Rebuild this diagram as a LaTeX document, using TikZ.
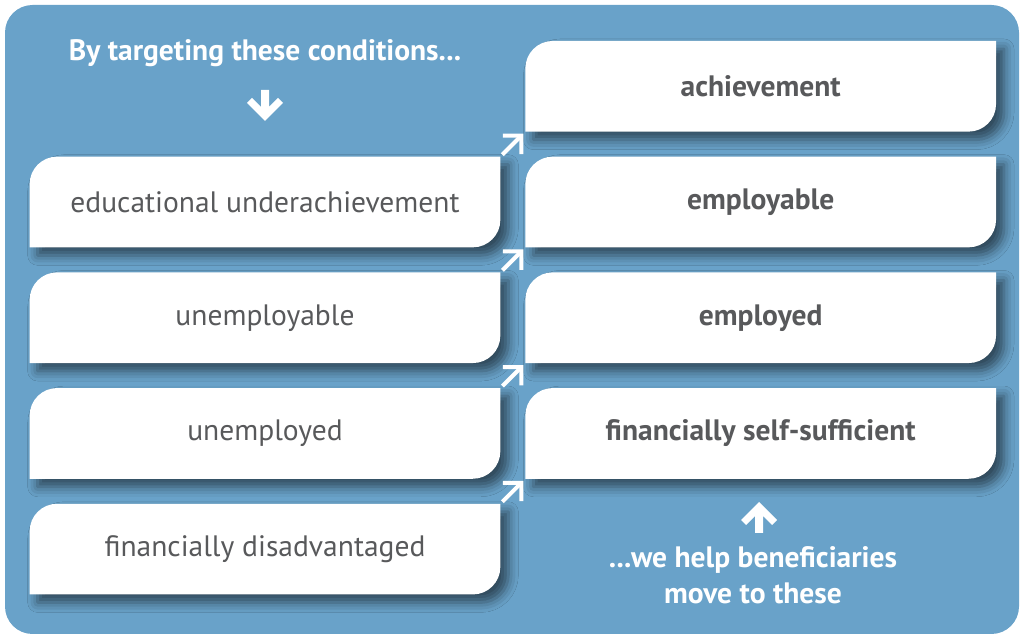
\documentclass[tikz,border=0pt]{standalone}
\usepackage{fontspec}
\setmainfont{PT Sans}
\usetikzlibrary{arrows.meta,positioning,backgrounds,shadows.blur}

\definecolor{panel}{HTML}{69A2C9}
\definecolor{textgrey}{HTML}{58595B}

\begin{document}
\begin{tikzpicture}[
	leaf/.style = {minimum width=9.4cm, minimum height=1.8cm, inner sep=0pt,
		text=textgrey, font=\fontsize{16.8}{20}\selectfont},
	goal/.style = {leaf, font=\fontsize{16.8}{20}\selectfont\bfseries},
	note/.style = {text=white, align=center, font=\fontsize{16.8}{20.4}\selectfont\bfseries},
	step arrow/.style = {white, line width=2.3pt,
		-{Straight Barb[length=0.26cm, width=0.52cm, line join=miter, line cap=butt]}},
	bigarrow/.style = {fill=white}
]
\useasboundingbox (0,0) rectangle (20.48,12.78);

% conditions
\node [leaf] (lb1) at (5.3,8.74) {educational underachievement};
\node [leaf, below=0.5cm of lb1] (lb2) {unemployable};
\node [leaf, below=0.5cm of lb2] (lb3) {unemployed};
\node [leaf, below=0.5cm of lb3] (lb4) {financially disadvantaged};

% outcomes
\node [goal, right=0.5cm of lb1] (rb2) {employable};
\node [goal, above=0.5cm of rb2] (rb1) {achievement};
\node [goal, below=0.5cm of rb2] (rb3) {employed};
\node [goal, below=0.5cm of rb3] (rb4) {financially self-sufficient};

\node [note] (head) at (5.3,11.72) {By targeting these conditions...};
\node [note] (foot) at (15.06,1.27) {...we help beneficiaries\\move to these};

% big arrows
\coordinate (dn) at (5.3,10.36);
\coordinate (up) at (15.18,2.74);
\fill [bigarrow] (dn) -- ++(0.36,0.36) -- ++(-0.1,0.1) -- ++(-0.18,-0.18) -- ++(0,0.34)
	-- ++(-0.16,0) -- ++(0,-0.34) -- ++(-0.18,0.18) -- ++(-0.1,-0.1) -- cycle;
\fill [bigarrow] (up) -- ++(0.36,-0.36) -- ++(-0.1,-0.1) -- ++(-0.18,0.18) -- ++(0,-0.34)
	-- ++(-0.16,0) -- ++(0,0.34) -- ++(-0.18,-0.18) -- ++(-0.1,0.1) -- cycle;

% small arrows
\foreach \i in {1,2,3,4}
	\draw [step arrow] ([shift={(0.04,0.04)}]lb\i.north east) -- ([shift={(-0.04,-0.04)}]rb\i.south west);

\begin{scope}[on background layer]
	\fill [panel, rounded corners=0.55cm] (0.1,0.1) rectangle (20.38,12.68);
	\foreach \n in {lb1,lb2,lb3,lb4,rb1,rb2,rb3,rb4}
		\fill [white, blur shadow={shadow xshift=0.16cm, shadow yshift=-0.16cm,
			shadow blur radius=0.2cm, shadow opacity=55}]
			(\n.south west) -- ([yshift=-0.55cm]\n.north west)
			arc[start angle=180, end angle=90, radius=0.55cm] -- (\n.north east)
			-- ([yshift=0.55cm]\n.south east)
			arc[start angle=0, end angle=-90, radius=0.55cm] -- cycle;
\end{scope}
\end{tikzpicture}
\end{document}
